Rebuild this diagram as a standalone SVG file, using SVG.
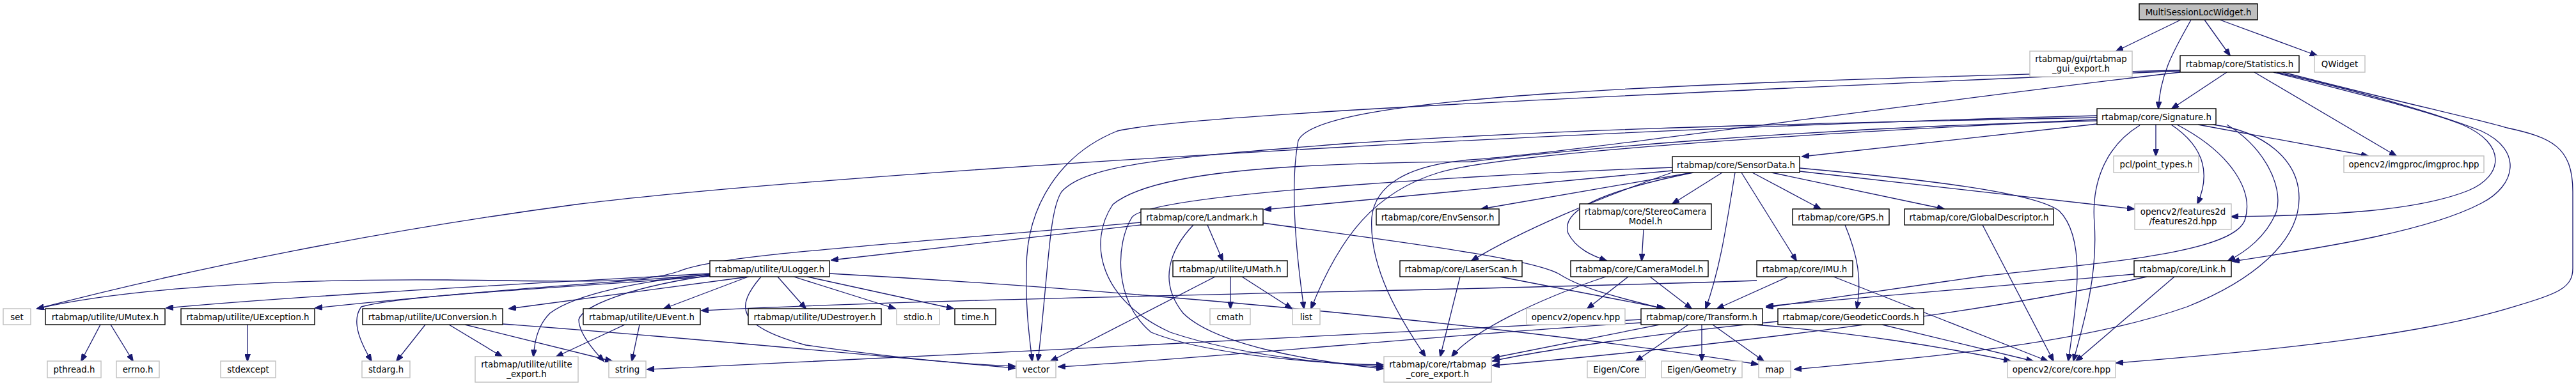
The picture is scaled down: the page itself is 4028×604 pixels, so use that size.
<svg xmlns="http://www.w3.org/2000/svg" width="4028" height="604" viewBox="0 0 4028 604">
<style>
.n rect{fill:#fff;stroke:#000;stroke-width:1.4}
.g rect{fill:#fff;stroke:#bfbfbf;stroke-width:1.4}
.r rect{fill:#bfbfbf;stroke:#000;stroke-width:1.4}
text{font-family:"DejaVu Sans","Liberation Sans",sans-serif;font-size:13.33px;fill:#000;text-anchor:middle}
#edges path{fill:none;stroke:#191970;stroke-width:1.3;marker-end:url(#a)}
</style>
<defs>
<marker id="a" markerWidth="12" markerHeight="9" refX="11" refY="4.5" orient="auto" markerUnits="userSpaceOnUse"><path d="M0,0 L12,4.5 L0,9 z" fill="#191970" stroke="#191970"/></marker>
</defs>
<rect width="4028" height="604" fill="#fff"/>
<g id="edges">
<path d="M3410,31 L3309,80"/>
<path d="M3426,31 C3405,70 3378,110 3375,170"/>
<path d="M3447,31 L3487,87"/>
<path d="M3471,31 L3623,87"/>
<path d="M3482,113 L3396,170"/>
<path d="M3525,113 L3747,244"/>
<path d="M3555,113 C3700,150 3800,175 3850,195 C3920,225 3915,275 3860,298 C3780,330 3650,337 3489,339"/>
<path d="M3560,113 C3720,150 3830,185 3880,205 C3945,235 3935,290 3880,318 C3800,360 3650,385 3491,409"/>
<path d="M3570,113 C3750,160 3870,185 3920,200 C3990,215 4023,230 4023,300 L4023,420 C4023,450 4000,460 3930,480 C3800,520 3600,545 3309,568"/>
<path d="M3371,195 L3371,244"/>
<path d="M3395,195 C3440,225 3460,265 3436,319"/>
<path d="M3437,195 L3703,244"/>
<path d="M3482,195 C3540,230 3570,290 3560,330 C3545,370 3510,395 3484,408"/>
<path d="M3460,195 C3540,205 3595,250 3595,310 C3595,380 3520,440 3420,480 C3250,540 3000,560 2806,578"/>
<path d="M3404,195 C3490,240 3525,300 3510,345 C3490,395 3300,410 3100,432 L2762,481"/>
<path d="M3279,194 L2818,245"/>
<path d="M3346,196 C3290,230 3270,290 3275,350 C3280,430 3260,500 3242,565"/>
<path d="M3279,181 C2500,200 1300,270 900,320 C600,360 300,420 58,483"/>
<path d="M3279,187 C2800,210 2350,240 2250,270 C2150,300 2095,370 2050,483"/>
<path d="M3279,184 C2700,195 2400,205 2100,225 C1850,245 1700,255 1660,300 C1640,330 1640,420 1623,565"/>
<path d="M3279,189 C2800,200 2400,240 2300,253 C2000,255 1800,270 1740,320 C1700,380 1720,470 1830,520 C1950,560 2100,570 2163,574"/>
<path d="M3409,110 C2600,130 2060,150 2030,220 C2015,300 2030,420 2039,483"/>
<path d="M3409,111 C2500,150 1850,180 1747,205 C1660,240 1605,320 1605,420 C1603,480 1610,530 1614,565"/>
<path d="M3409,113 C3000,160 2450,240 2300,250 C2200,258 2150,290 2145,340 C2140,420 2190,500 2229,558"/>
<path d="M2615,267 L1977,328"/>
<path d="M2646,270 L2316,327"/>
<path d="M2617,269 C2500,310 2380,360 2301,408"/>
<path d="M2648,270 C2500,300 2440,330 2452,365 C2465,390 2490,400 2512,408"/>
<path d="M2693,270 L2615,319"/>
<path d="M2713,270 C2700,350 2690,420 2667,483"/>
<path d="M2723,270 L2809,408"/>
<path d="M2740,270 L2847,327"/>
<path d="M2770,270 L3040,327"/>
<path d="M2814,268 L3337,327"/>
<path d="M2814,263 C3000,280 3180,300 3220,330 C3260,370 3250,460 3234,565"/>
<path d="M2615,262 C2400,270 1800,300 1770,340 C1745,380 1740,470 1800,520 C1900,560 2100,570 2163,571"/>
<path d="M1784,352 L1300,407"/>
<path d="M1784,348 C1300,390 1120,400 1060,425 C1000,445 900,440 700,438 C450,436 200,450 58,483"/>
<path d="M1888,352 L1912,408"/>
<path d="M1866,352 C1830,390 1810,440 1850,490 C1900,540 2050,565 2163,577"/>
<path d="M1975,349 C2200,380 2400,405 2440,430 C2480,455 2550,470 2601,483"/>
<path d="M1170,433 L1038,483"/>
<path d="M1216,433 L1260,483"/>
<path d="M1241,433 L1400,483"/>
<path d="M1262,433 L1491,483"/>
<path d="M1190,433 C1150,480 1150,510 1260,540 C1400,560 1500,570 1587,573"/>
<path d="M1171,433 L796,483"/>
<path d="M1297,428 C1700,450 2300,500 2749,570"/>
<path d="M1110,428 C900,440 500,460 260,482"/>
<path d="M1110,430 C900,445 700,460 493,482"/>
<path d="M1110,432 C900,450 640,460 565,480 C550,500 560,530 581,565"/>
<path d="M1110,429 C1000,440 900,460 860,490 C840,510 836,535 834,558"/>
<path d="M1110,431 C980,450 910,480 905,500 C905,520 925,545 944,565"/>
<path d="M1900,433 L1643,565"/>
<path d="M1924,433 L1924,483"/>
<path d="M1942,433 L2020,483"/>
<path d="M157,508 L127,565"/>
<path d="M173,508 L208,565"/>
<path d="M387,508 L387,565"/>
<path d="M665,508 L620,565"/>
<path d="M702,508 L785,558"/>
<path d="M727,508 L957,565"/>
<path d="M786,507 C1100,530 1400,560 1587,576"/>
<path d="M977,508 L870,558"/>
<path d="M1000,508 L988,565"/>
<path d="M2283,433 L2252,558"/>
<path d="M2345,433 L2604,483"/>
<path d="M2511,433 C2400,470 2300,520 2270,558"/>
<path d="M2546,433 L2482,483"/>
<path d="M2580,433 L2645,483"/>
<path d="M2570,359 L2567,408"/>
<path d="M2747,439 C2300,455 1500,465 1097,486"/>
<path d="M2796,433 L2685,483"/>
<path d="M2867,433 L3202,565"/>
<path d="M2885,352 C2905,400 2912,440 2903,483"/>
<path d="M2943,508 L3179,565"/>
<path d="M2780,503 C2600,520 2400,550 2334,565"/>
<path d="M3100,352 L3211,565"/>
<path d="M2640,508 L2558,565"/>
<path d="M2661,508 L2661,565"/>
<path d="M2678,508 L2758,565"/>
<path d="M2595,508 L2334,560"/>
<path d="M2743,508 C2900,520 3050,545 3144,565"/>
<path d="M2566,505 C2300,520 1900,560 1655,574"/>
<path d="M2566,500 C2200,520 1500,555 1012,578"/>
<path d="M3337,429 L2762,479"/>
<path d="M3400,433 L3246,565"/>
<path d="M3357,433 C3100,490 2700,540 2334,572"/>
</g>
<g id="root" class="r"><rect x="3345" y="6" width="185" height="25"/><text x="3437.5" y="23.5">MultiSessionLocWidget.h</text></g>
<g id="gui_export" class="g"><rect x="3174" y="80" width="160" height="40"/><text x="3254" y="96.5">rtabmap/gui/rtabmap</text><text x="3254" y="111.5">_gui_export.h</text></g>
<g id="statistics" class="n"><rect x="3409" y="87" width="186" height="26"/><text x="3502" y="104.5">rtabmap/core/Statistics.h</text></g>
<g id="qwidget" class="g"><rect x="3619" y="87" width="79" height="26"/><text x="3658.5" y="104.5">QWidget</text></g>
<g id="signature" class="n"><rect x="3279" y="170" width="186" height="25"/><text x="3372" y="187.5">rtabmap/core/Signature.h</text></g>
<g id="pcl" class="g"><rect x="3305" y="244" width="133" height="26"/><text x="3371.5" y="261.5">pcl/point_types.h</text></g>
<g id="imgproc" class="g"><rect x="3665" y="244" width="219" height="26"/><text x="3774.5" y="261.5">opencv2/imgproc/imgproc.hpp</text></g>
<g id="sensordata" class="n"><rect x="2615" y="245" width="199" height="25"/><text x="2714.5" y="262.5">rtabmap/core/SensorData.h</text></g>
<g id="features2d" class="g"><rect x="3338" y="319" width="151" height="40"/><text x="3413.5" y="335.5">opencv2/features2d</text><text x="3413.5" y="350.5">/features2d.hpp</text></g>
<g id="landmark" class="n"><rect x="1784" y="327" width="191" height="25"/><text x="1879.5" y="344.5">rtabmap/core/Landmark.h</text></g>
<g id="envsensor" class="n"><rect x="2152" y="327" width="192" height="25"/><text x="2248" y="344.5">rtabmap/core/EnvSensor.h</text></g>
<g id="stereo" class="n"><rect x="2470" y="319" width="206" height="40"/><text x="2573" y="335.5">rtabmap/core/StereoCamera</text><text x="2573" y="350.5">Model.h</text></g>
<g id="gps" class="n"><rect x="2803" y="327" width="151" height="25"/><text x="2878.5" y="344.5">rtabmap/core/GPS.h</text></g>
<g id="globaldesc" class="n"><rect x="2978" y="327" width="233" height="25"/><text x="3094.5" y="344.5">rtabmap/core/GlobalDescriptor.h</text></g>
<g id="ulogger" class="n"><rect x="1110" y="408" width="187" height="25"/><text x="1203.5" y="425.5">rtabmap/utilite/ULogger.h</text></g>
<g id="umath" class="n"><rect x="1834" y="408" width="179" height="25"/><text x="1923.5" y="425.5">rtabmap/utilite/UMath.h</text></g>
<g id="laserscan" class="n"><rect x="2189" y="408" width="191" height="25"/><text x="2284.5" y="425.5">rtabmap/core/LaserScan.h</text></g>
<g id="cameramodel" class="n"><rect x="2456" y="408" width="215" height="25"/><text x="2563.5" y="425.5">rtabmap/core/CameraModel.h</text></g>
<g id="imu" class="n"><rect x="2747" y="408" width="150" height="25"/><text x="2822" y="425.5">rtabmap/core/IMU.h</text></g>
<g id="link" class="n"><rect x="3337" y="408" width="152" height="25"/><text x="3413" y="425.5">rtabmap/core/Link.h</text></g>
<g id="set" class="g"><rect x="5" y="483" width="43" height="25"/><text x="26.5" y="500.5">set</text></g>
<g id="umutex" class="n"><rect x="71" y="483" width="187" height="25"/><text x="164.5" y="500.5">rtabmap/utilite/UMutex.h</text></g>
<g id="uexception" class="n"><rect x="283" y="483" width="209" height="25"/><text x="387.5" y="500.5">rtabmap/utilite/UException.h</text></g>
<g id="uconversion" class="n"><rect x="567" y="483" width="219" height="25"/><text x="676.5" y="500.5">rtabmap/utilite/UConversion.h</text></g>
<g id="uevent" class="n"><rect x="912" y="483" width="183" height="25"/><text x="1003.5" y="500.5">rtabmap/utilite/UEvent.h</text></g>
<g id="udestroyer" class="n"><rect x="1170" y="483" width="208" height="25"/><text x="1274" y="500.5">rtabmap/utilite/UDestroyer.h</text></g>
<g id="stdio" class="g"><rect x="1402" y="483" width="67" height="25"/><text x="1435.5" y="500.5">stdio.h</text></g>
<g id="time" class="n"><rect x="1493" y="483" width="64" height="25"/><text x="1525" y="500.5">time.h</text></g>
<g id="cmath" class="g"><rect x="1892" y="483" width="63" height="25"/><text x="1923.5" y="500.5">cmath</text></g>
<g id="list" class="g"><rect x="2021" y="483" width="43" height="25"/><text x="2042.5" y="500.5">list</text></g>
<g id="opencvhpp" class="g"><rect x="2387" y="483" width="154" height="25"/><text x="2464" y="500.5">opencv2/opencv.hpp</text></g>
<g id="transform" class="n"><rect x="2566" y="483" width="190" height="25"/><text x="2661" y="500.5">rtabmap/core/Transform.h</text></g>
<g id="geodetic" class="n"><rect x="2780" y="483" width="228" height="25"/><text x="2894" y="500.5">rtabmap/core/GeodeticCoords.h</text></g>
<g id="pthread" class="g"><rect x="74" y="565" width="84" height="26"/><text x="116" y="582.5">pthread.h</text></g>
<g id="errno" class="g"><rect x="182" y="565" width="67" height="26"/><text x="215.5" y="582.5">errno.h</text></g>
<g id="stdexcept" class="g"><rect x="345" y="565" width="86" height="26"/><text x="388" y="582.5">stdexcept</text></g>
<g id="stdarg" class="g"><rect x="566" y="565" width="75" height="26"/><text x="603.5" y="582.5">stdarg.h</text></g>
<g id="utilite_export" class="g"><rect x="743" y="558" width="161" height="40"/><text x="823.5" y="574.5">rtabmap/utilite/utilite</text><text x="823.5" y="589.5">_export.h</text></g>
<g id="string" class="g"><rect x="952" y="565" width="58" height="26"/><text x="981" y="582.5">string</text></g>
<g id="vector" class="g"><rect x="1589" y="565" width="62" height="26"/><text x="1620" y="582.5">vector</text></g>
<g id="core_export" class="g"><rect x="2164" y="558" width="168" height="40"/><text x="2248" y="574.5">rtabmap/core/rtabmap</text><text x="2248" y="589.5">_core_export.h</text></g>
<g id="eigencore" class="g"><rect x="2482" y="565" width="91" height="26"/><text x="2527.5" y="582.5">Eigen/Core</text></g>
<g id="eigengeom" class="g"><rect x="2598" y="565" width="126" height="26"/><text x="2661" y="582.5">Eigen/Geometry</text></g>
<g id="map" class="g"><rect x="2750" y="565" width="50" height="26"/><text x="2775" y="582.5">map</text></g>
<g id="corehpp" class="g"><rect x="3139" y="565" width="169" height="26"/><text x="3223.5" y="582.5">opencv2/core/core.hpp</text></g>
</svg>
